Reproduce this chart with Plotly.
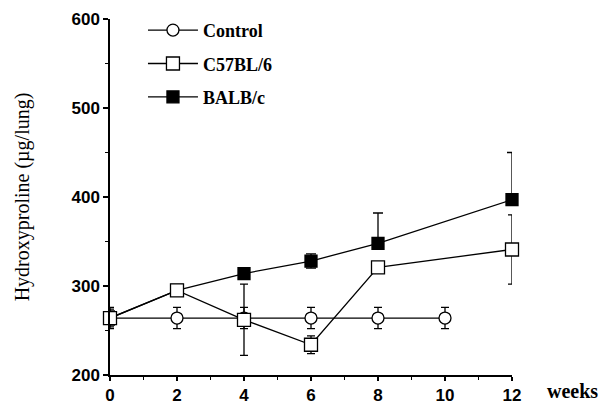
import plotly.graph_objects as go

# Hydroxyproline content of lung tissue over time
weeks_control = [0, 2, 4, 6, 8, 10]
control = [264, 264, 264, 264, 264, 264]
control_err = [12, 12, 12, 12, 12, 12]

weeks_strain = [0, 2, 4, 6, 8, 12]
c57 = [264, 295, 262, 234, 321, 341]
c57_err = [10, 5, 40, 10, 5, 39]

balb = [264, 295, 314, 328, 348, 397]
balb_err_up = [8, 5, 5, 8, 34, 53]
balb_err_down = [8, 5, 0, 8, 0, 0]

x_ticks = [0, 2, 4, 6, 8, 10, 12]
y_ticks = [200, 300, 400, 500, 600]

line = dict(color="black", width=1.3)

fig = go.Figure()

fig.add_trace(go.Scatter(
    x=weeks_control, y=control, name="Control", mode="lines+markers",
    line=line, legendrank=1, legendgroup="a",
    marker=dict(symbol="circle", size=12, color="white",
                line=dict(color="black", width=1.3)),
    error_y=dict(type="data", array=control_err, color="black",
                 thickness=1.3, width=4),
))
fig.add_trace(go.Scatter(
    x=weeks_strain, y=balb, name="BALB/c", mode="lines+markers",
    line=line, legendrank=3, legendgroup="c",
    marker=dict(symbol="square", size=12, color="black",
                line=dict(color="black", width=1.3)),
    error_y=dict(type="data", symmetric=False, array=balb_err_up,
                 arrayminus=balb_err_down, color="black",
                 thickness=1.3, width=5),
))
fig.add_trace(go.Scatter(
    x=weeks_strain, y=c57, name="C57BL/6", mode="lines+markers",
    line=line, legendrank=2, legendgroup="b",
    marker=dict(symbol="square", size=13, color="white",
                line=dict(color="black", width=1.3)),
    error_y=dict(type="data", array=c57_err, color="black",
                 thickness=1.3, width=4),
))

for tr in fig.data:
    tr.cliponaxis = False

tick_font = dict(family="Liberation Sans", size=17, color="black",
                 weight="bold")

fig.update_layout(
    width=612, height=405,
    margin=dict(l=110, r=100, t=15, b=30),
    paper_bgcolor="white", plot_bgcolor="white",
    showlegend=True,
    legend=dict(
        x=0.082, y=1.02, xanchor="left", yanchor="top",
        font=dict(family="Liberation Serif", size=18, color="black",
                  weight="bold"),
        itemwidth=50, tracegroupgap=7, bgcolor="rgba(0,0,0,0)",
    ),
    xaxis=dict(
        range=[0, 12], tickvals=x_ticks, ticktext=[str(v) for v in x_ticks],
        showgrid=False, zeroline=False, showline=True, linecolor="black",
        linewidth=1.5, ticks="outside", ticklen=4, tickwidth=1.5,
        tickcolor="black", tickfont=tick_font, ticklabelstandoff=0,
        automargin=False,
        minor=dict(tickvals=[1, 3, 5, 7, 9, 11], ticks="outside",
                   ticklen=3, tickcolor="black", tickwidth=1),
    ),
    yaxis=dict(
        range=[200, 600], tickvals=y_ticks, ticktext=[str(v) for v in y_ticks],
        showgrid=False, zeroline=False, showline=True, linecolor="black",
        linewidth=1.5, ticks="outside", ticklen=5, tickwidth=1.5,
        tickcolor="black", tickfont=tick_font, automargin=False,
        minor=dict(tickvals=[250, 350, 450, 550], ticks="outside",
                   ticklen=3, tickcolor="black", tickwidth=1),
        title=dict(text="Hydroxyproline (µg/lung)", standoff=36,
                   font=dict(family="Liberation Serif", size=20,
                             color="black")),
    ),
    annotations=[dict(
        text="weeks", xref="paper", yref="paper", x=1.082, y=-0.045,
        xanchor="left", yanchor="middle", showarrow=False,
        font=dict(family="Liberation Serif", size=20, color="black",
                  weight="bold"),
    )],
)

fig.write_html("out.html")
